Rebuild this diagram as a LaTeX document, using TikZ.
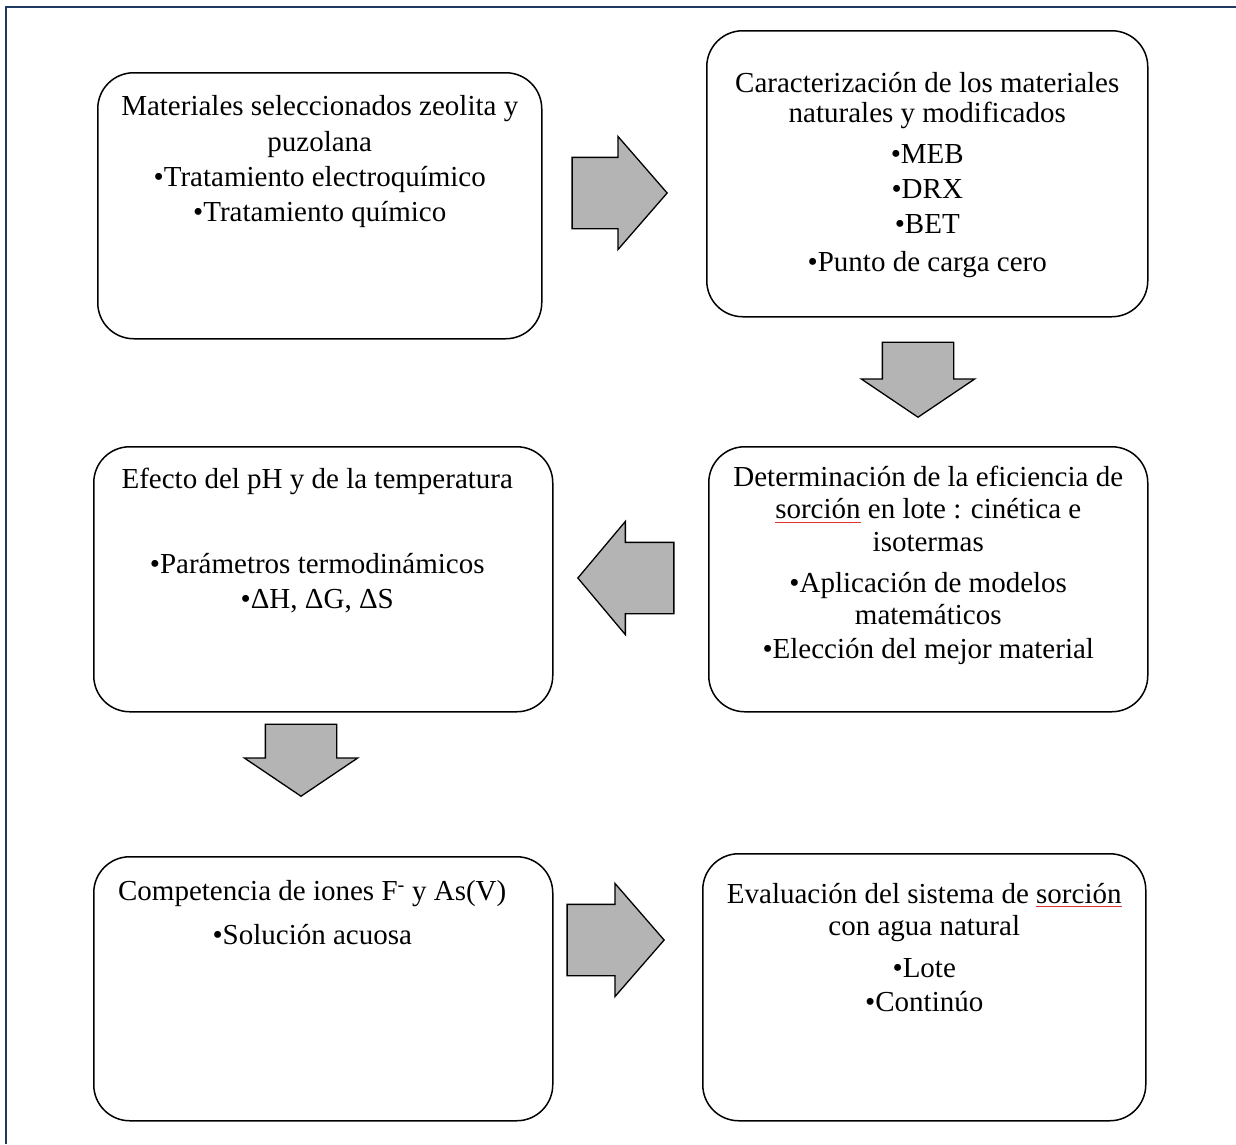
\documentclass[tikz,border=0pt]{standalone}
\usepackage{fontspec}
\setmainfont{Liberation Serif}
\usepackage{xcolor}
\usetikzlibrary{positioning, shapes.arrows}
\definecolor{framenavy}{RGB}{31,56,100}
\definecolor{arrowgray}{RGB}{180,180,180}
\definecolor{spellred}{RGB}{225,50,50}
\newcommand{\spellmark}[1]{\setbox0=\hbox{#1}\rlap{\textcolor{spellred}{\rule[-4pt]{\wd0}{0.9pt}}}\box0\relax}

\begin{document}
\begin{tikzpicture}[x=1pt, y=-1pt,
  box/.style={draw, line width=1.5pt, rounded corners=36pt, anchor=north west, inner sep=0pt},
  txt/.style={inner sep=0pt, align=center, font=\fontsize{29}{31}\selectfont},
  blockarrow/.style={single arrow, draw, fill=arrowgray, line width=1.3pt, inner xsep=0pt, inner ysep=35pt,
    single arrow head extend=21pt, anchor=tip}]
\useasboundingbox (0,0) rectangle (1236,1144);
\draw[framenavy, line width=2pt] (6,1144) -- (6,7) -- (1236,7);

% boxes
\node[box, minimum width=444pt, minimum height=266pt] (mat) at (97,72) {};
\node[box, minimum width=441pt, minimum height=286pt] (car) at (706,30) {};
\node[box, minimum width=439pt, minimum height=265pt] (sor) at (708,446) {};
\node[box, minimum width=459pt, minimum height=265pt] (efe) at (93,446) {};
\node[box, minimum width=459pt, minimum height=264pt] (com) at (93,856) {};
\node[box, minimum width=443pt, minimum height=267pt] (eva) at (702,853) {};

% texts
\node[txt, below=23pt of mat.north] (tmat) {Materiales seleccionados zeolita y\\[5pt]puzolana\\[4pt]
  \textbullet Tratamiento electroquímico\\[4pt]\textbullet Tratamiento químico};
\node[txt, below=42pt of car.north] (tcar) {Caracterización de los materiales\\[-1pt]naturales y modificados\\[10pt]
  \textbullet MEB\\[4pt]\textbullet DRX\\[4pt]\textbullet BET\\[7pt]\textbullet Punto de carga cero};
\node[txt, below=20pt of sor.north] (tsor) {Determinación de la eficiencia de\\[1pt]\spellmark{sorción} en lote : cinética e\\[2pt]isotermas\\[10pt]
  \textbullet Aplicación de modelos\\[1pt]matemáticos\\[3pt]\textbullet Elección del mejor material};
\node[txt, below=22pt of efe.north, xshift=-6pt] (tefe) {Efecto del pH y de la temperatura\\[54pt]
  \textbullet Parámetros termodinámicos\\[4pt]\textbullet ΔH, ΔG, ΔS};
\node[txt, below=24pt of com.north, xshift=-11pt] (tcom) {Competencia de iones F\textsuperscript{-} y As(V)\\[13pt]
  \textbullet Solución acuosa};
\node[txt, below=30pt of eva.north] (teva) {Evaluación del sistema de \spellmark{sorción}\\[1pt]con agua natural\\[11pt]
  \textbullet Lote\\[3pt]\textbullet Continúo};

% block arrows
\node[blockarrow, minimum height=95pt, single arrow tip angle=98] (a1) at (668,193) {};
\node[blockarrow, minimum height=75pt, single arrow tip angle=112, rotate=-90] (a2) at (918,418) {};
\node[blockarrow, minimum height=96pt, single arrow tip angle=100, rotate=180] (a3) at (577,578) {};
\node[blockarrow, minimum height=72pt, single arrow tip angle=112, rotate=-90] (a4) at (301,797) {};
\node[blockarrow, minimum height=97pt, single arrow tip angle=98] (a5) at (665,940) {};
\end{tikzpicture}
\end{document}
